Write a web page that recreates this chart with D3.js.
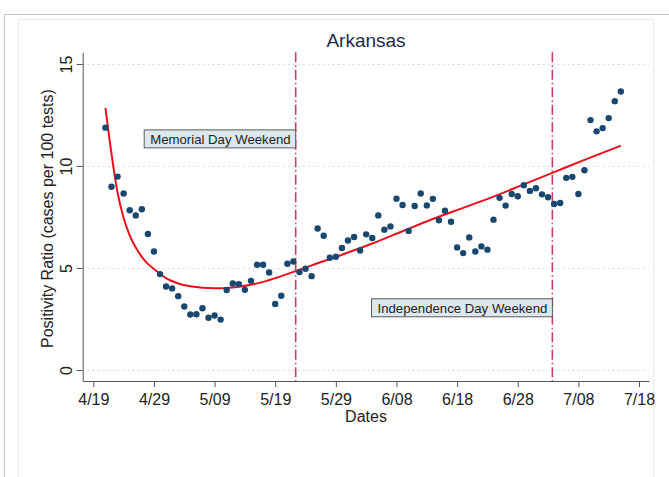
<!DOCTYPE html>
<html><head><meta charset="utf-8">
<script src="https://cdn.jsdelivr.net/npm/d3@7"></script>
<style>
html,body{margin:0;padding:0;background:#fff;}
svg{display:block;font-family:"Liberation Sans",Arial,sans-serif;}
</style></head>
<body>
<svg id="chart" width="669" height="477"></svg>
<script>
// ---- data ----
const title = "Arkansas";
const xLabel = "Dates";
const yLabel = "Positivity Ratio (cases per 100 tests)";
const dates = ["2020-04-21","2020-04-22","2020-04-23","2020-04-24","2020-04-25","2020-04-26","2020-04-27","2020-04-28","2020-04-29","2020-04-30",
"2020-05-01","2020-05-02","2020-05-03","2020-05-04","2020-05-05","2020-05-06","2020-05-07","2020-05-08","2020-05-09","2020-05-10",
"2020-05-11","2020-05-12","2020-05-13","2020-05-14","2020-05-15","2020-05-16","2020-05-17","2020-05-18","2020-05-19","2020-05-20",
"2020-05-21","2020-05-22","2020-05-23","2020-05-24","2020-05-25","2020-05-26","2020-05-27","2020-05-28","2020-05-29","2020-05-30",
"2020-05-31","2020-06-01","2020-06-02","2020-06-03","2020-06-04","2020-06-05","2020-06-06","2020-06-07","2020-06-08","2020-06-09",
"2020-06-10","2020-06-11","2020-06-12","2020-06-13","2020-06-14","2020-06-15","2020-06-16","2020-06-17","2020-06-18","2020-06-19",
"2020-06-20","2020-06-21","2020-06-22","2020-06-23","2020-06-24","2020-06-25","2020-06-26","2020-06-27","2020-06-28","2020-06-29",
"2020-06-30","2020-07-01","2020-07-02","2020-07-03","2020-07-04","2020-07-05","2020-07-06","2020-07-07","2020-07-08","2020-07-09",
"2020-07-10","2020-07-11","2020-07-12","2020-07-13","2020-07-14","2020-07-15"];
const ratio = [11.88,8.98,9.48,8.65,7.83,7.58,7.88,6.67,5.81,4.70,
4.09,4.00,3.62,3.11,2.72,2.73,3.03,2.56,2.67,2.47,
3.92,4.24,4.21,3.93,4.37,5.16,5.16,4.78,3.24,3.64,
5.21,5.32,4.80,4.96,4.60,6.94,6.58,5.50,5.55,5.98,
6.35,6.52,5.86,6.65,6.47,7.58,6.88,7.04,8.40,8.09,
6.82,8.04,8.65,8.07,8.39,7.34,7.81,7.27,6.01,5.73,
6.50,5.81,6.06,5.90,7.37,8.44,8.06,8.63,8.52,9.06,
8.78,8.91,8.61,8.47,8.14,8.19,9.42,9.47,8.63,9.79,
12.25,11.70,11.86,12.35,13.18,13.65];
const fitDates = ["2020-04-21","2020-04-22","2020-04-23","2020-04-24","2020-04-25","2020-04-26","2020-04-27","2020-04-28","2020-04-29","2020-04-30",
"2020-05-01","2020-05-03","2020-05-05","2020-05-07","2020-05-09","2020-05-11","2020-05-13","2020-05-15","2020-05-17","2020-05-20",
"2020-05-25","2020-05-30","2020-06-04","2020-06-09","2020-06-14","2020-06-19","2020-06-24","2020-06-29","2020-07-04","2020-07-09","2020-07-15"];
const fitValues = [12.85,10.6,8.7,7.45,6.6,6.0,5.55,5.2,4.95,4.72,
4.5,4.24,4.1,4.03,4.01,4.02,4.08,4.18,4.32,4.6,
5.13,5.65,6.2,6.8,7.4,7.95,8.5,9.1,9.7,10.3,11.0];
const eventDates = ["2020-05-22T09:00","2020-07-03T17:00"];
const eventLabels = ["Memorial Day Weekend","Independence Day Weekend"];
const eventLabelY = [11.33, 3.05];
const xTickDates = ["2020-04-19","2020-04-29","2020-05-09","2020-05-19","2020-05-29","2020-06-08","2020-06-18","2020-06-28","2020-07-08","2020-07-18"];
const yTicks = [0,5,10,15];

// ---- frame ----
const svg = d3.select("#chart");
svg.append("line").attr("x1",4.5).attr("x2",4.5).attr("y1",14.5).attr("y2",477).attr("stroke","#c4c4c4");
svg.append("line").attr("x1",4.5).attr("x2",669).attr("y1",14.5).attr("y2",14.5).attr("stroke","#c4c4c4");
svg.append("rect").attr("x",18.5).attr("y",19.5).attr("width",635).attr("height",470)
  .attr("fill","#fff").attr("stroke","#e3eaf0");

const parse = d3.timeParse("%Y-%m-%d");
const parseT = d3.timeParse("%Y-%m-%dT%H:%M");
const x = d3.scaleTime()
  .domain([parseT("2020-04-17T06:00"), parseT("2020-07-19T15:30")])
  .range([82.7, 649]);
const y = d3.scaleLinear().domain([-0.54, 15.58]).range([381, 52.2]);

const [x0,x1] = x.range();
const [yb,yt] = y.range();

// gridlines
svg.append("g").selectAll("line").data(yTicks).join("line")
  .attr("x1",x0).attr("x2",x1)
  .attr("y1",d=>Math.round(y(d))+0.5).attr("y2",d=>Math.round(y(d))+0.5)
  .attr("stroke","#d9dde0").attr("stroke-width",1).attr("stroke-dasharray","2,3");

// event lines
svg.append("g").selectAll("line").data(eventDates).join("line")
  .attr("x1",d=>x(parseT(d))).attr("x2",d=>x(parseT(d)))
  .attr("y1",yt).attr("y2",yb)
  .attr("stroke","#c93a70").attr("stroke-width",1.6).attr("stroke-dasharray","10,3,1.5,3");

// event labels
const lab = svg.append("g").selectAll("g").data(eventLabels).join("g");
lab.each(function(d,i){
  const g = d3.select(this);
  const t = g.append("text").text(d).attr("font-size",13.2).attr("fill","#222")
    .attr("text-anchor","end").attr("dominant-baseline","central");
  const right = x(parseT(eventDates[i]));
  const cy = y(eventLabelY[i]);
  t.attr("x", right-5).attr("y", cy+0.5);
  const w = t.node().getComputedTextLength();
  g.insert("rect","text").attr("x", right-w-11).attr("y", cy-9).attr("width", w+11).attr("height",18)
    .attr("fill","#dde7ee").attr("stroke","#5a5a5a").attr("stroke-width",1);
});

// fitted curve
const fit = fitDates.map((d,i)=>({d:parse(d), v:fitValues[i]}));
svg.append("path").datum(fit)
  .attr("d", d3.line().x(p=>x(p.d)).y(p=>y(p.v)).curve(d3.curveMonotoneX))
  .attr("fill","none").attr("stroke","#e8101a").attr("stroke-width",2);

// points
const pts = dates.map((d,i)=>({d:parse(d), v:ratio[i]}));
svg.append("g").selectAll("circle").data(pts).join("circle")
  .attr("cx",p=>x(p.d)).attr("cy",p=>y(p.v)).attr("r",3.2)
  .attr("fill","#1a476f");

// x axis
const xAxis = d3.axisBottom(x).tickValues(xTickDates.map(parse)).tickFormat(d3.timeFormat("%-m/%d"))
  .tickSize(6).tickSizeOuter(0).tickPadding(7);
const gx = svg.append("g").attr("transform",`translate(0,${yb})`).call(xAxis);
gx.select(".domain").attr("stroke","#555");
gx.selectAll(".tick line").attr("stroke","#555");
gx.selectAll(".tick text").attr("font-size",16).attr("fill","#222").attr("font-family","Liberation Sans, Arial, sans-serif");

// y axis
const yAxis = d3.axisLeft(y).tickValues(yTicks).tickSize(6).tickSizeOuter(0).tickFormat(d3.format("d"));
const gy = svg.append("g").attr("transform",`translate(${x0},0)`).call(yAxis);
gy.select(".domain").attr("stroke","#555");
gy.selectAll(".tick line").attr("stroke","#555");
gy.selectAll(".tick text").remove();
gy.selectAll(".tick").append("text")
  .attr("transform","translate(-11,0) rotate(-90)")
  .attr("text-anchor","middle").attr("dy","0")
  .attr("font-size",16).attr("fill","#222").attr("font-family","Liberation Sans, Arial, sans-serif")
  .text(d=>d);

// titles
svg.append("text").attr("x",366).attr("y",47).attr("text-anchor","middle")
  .attr("font-size",19).attr("fill","#1e2c4a").text(title);
svg.append("text").attr("x",366).attr("y",421.5).attr("text-anchor","middle")
  .attr("font-size",16).attr("fill","#222").text(xLabel);
svg.append("text").attr("transform",`translate(53,${(yb+yt)/2+2}) rotate(-90)`).attr("text-anchor","middle")
  .attr("font-size",16).attr("fill","#222").text(yLabel);
</script>
</body></html>
